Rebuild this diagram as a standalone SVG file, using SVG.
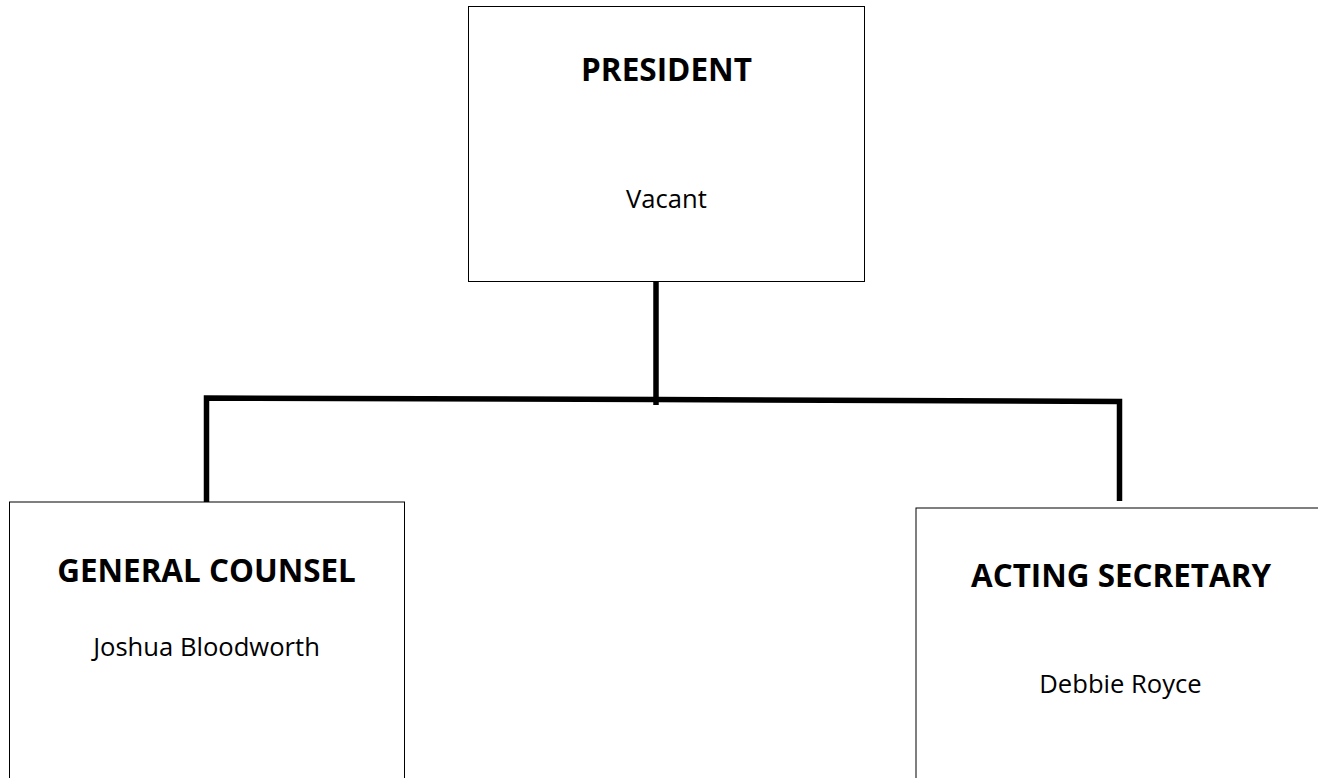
<svg xmlns="http://www.w3.org/2000/svg" width="1318" height="778" viewBox="0 0 1318 778">
<style>
.box{fill:#fff;stroke:#000;stroke-width:1}
.title{font-family:"Open Sans","Noto Sans",sans-serif;font-weight:bold;text-anchor:middle;fill:#000}
.name{font-family:"Open Sans","Noto Sans",sans-serif;text-anchor:middle;fill:#000}
.conn{fill:none;stroke:#000;stroke-width:5.5;stroke-linecap:butt;stroke-linejoin:miter}
</style>
<rect x="0" y="0" width="1318" height="778" fill="#fff"/>
<g id="connectors">
<line class="conn" x1="656" y1="281" x2="656" y2="405"/>
<polyline class="conn" points="206.5,505 206.5,398 656,399.5 1119.5,401.5 1119.5,501"/>
</g>
<g id="president">
<rect class="box" x="468.5" y="6.5" width="396" height="275"/>
<text class="title" x="666.5" y="81" font-size="31.5">PRESIDENT</text>
<text class="name" x="666.5" y="208" font-size="25.6">Vacant</text>
</g>
<g id="general-counsel">
<rect class="box" x="9.5" y="502" width="395" height="290"/>
<text class="title" x="206.5" y="582" font-size="31.4">GENERAL COUNSEL</text>
<text class="name" x="206.5" y="656" font-size="25.6">Joshua Bloodworth</text>
</g>
<g id="acting-secretary">
<rect class="box" x="916" y="508" width="410" height="290"/>
<text class="title" x="1121" y="587" font-size="31.4">ACTING SECRETARY</text>
<text class="name" x="1120.5" y="693" font-size="25.6">Debbie Royce</text>
</g>
</svg>
